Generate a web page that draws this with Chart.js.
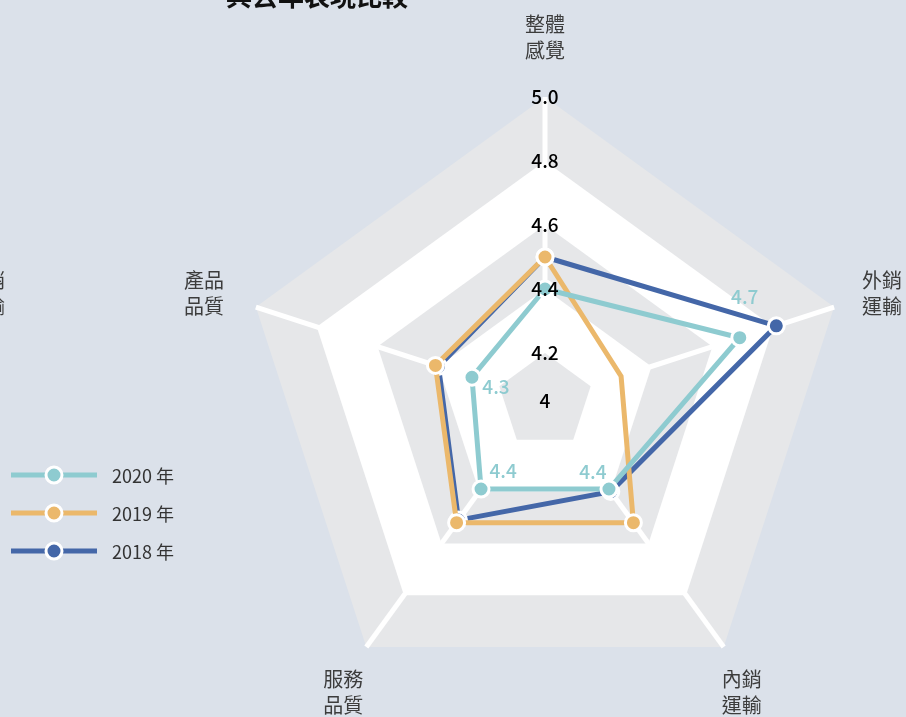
<!DOCTYPE html>
<html>
<head>
<meta charset="utf-8">
<script src="https://cdn.jsdelivr.net/npm/chart.js@4.4.1/dist/chart.umd.min.js"></script>
<style>
  html, body { margin: 0; padding: 0; background: #dbe1ea; overflow: hidden; }
  #grafico { display: block; }
</style>
</head>
<body>
<canvas id="grafico" width="906" height="717"></canvas>
<script>
const eixos = [['整體', '感覺'], ['外銷', '運輸'], ['內銷', '運輸'], ['服務', '品質'], ['產品', '品質']];
const anos = ['2020 年', '2019 年', '2018 年'];
const valores2020 = [4.40, 4.69, 4.39, 4.39, 4.29];
const valores2019 = [4.50, 4.30, 4.52, 4.52, 4.41];
const valores2018 = [4.50, 4.81, 4.40, 4.51, 4.40];
const escalaValores = [4.05, 4.2, 4.4, 4.6, 4.8, 5.0];
const escalaRotulos = ['4', '4.2', '4.4', '4.6', '4.8', '5.0'];
const titulo = '與去年表現比較';

const cores = ['#8ecbd0', '#ebb86b', '#4467a8'];
const fonte = "'Noto Sans CJK TC', 'Noto Sans', sans-serif";
const cinza = '#e6e7e9';

function poligono(ctx, escala, valor) {
    const d = escala.getDistanceFromCenterForValue(valor);
    const n = escala._pointLabels.length;
    ctx.beginPath();
    for (let i = 0; i < n; i++) {
        const p = escala.getPointPosition(i, d);
        if (i === 0) ctx.moveTo(p.x, p.y); else ctx.lineTo(p.x, p.y);
    }
    ctx.closePath();
}

const pluginFundo = {
    id: 'fundoRadar',
    beforeDraw(chart) {
        const ctx = chart.ctx;
        const escala = chart.scales.r;
        ctx.save();
        // faixas alternadas
        [[5.0, cinza], [4.8, '#ffffff'], [4.6, cinza], [4.4, '#ffffff']].forEach(([v, cor]) => {
            poligono(ctx, escala, v);
            ctx.fillStyle = cor;
            ctx.fill();
        });
        ctx.restore();
    },
    beforeDatasetsDraw(chart) {
        const ctx = chart.ctx;
        ctx.save();
        poligono(ctx, chart.scales.r, 4.2);
        ctx.fillStyle = cinza;
        ctx.fill();
        ctx.restore();
    },
    afterDatasetsDraw(chart) {
        // rótulos de valor da série 2020
        const ctx = chart.ctx;
        const desloc = [null, [5, -41], [-16, -17], [22, -18], [24, 10]];
        const meta = chart.getDatasetMeta(0);
        ctx.save();
        ctx.font = '500 19px ' + fonte;
        ctx.fillStyle = cores[0];
        ctx.textAlign = 'center';
        ctx.textBaseline = 'middle';
        meta.data.forEach((pt, i) => {
            if (!desloc[i]) return;
            ctx.fillText(valores2020[i].toFixed(1), pt.x + desloc[i][0], pt.y + desloc[i][1]);
        });
        ctx.restore();
    },
    afterDraw(chart) {
        const ctx = chart.ctx;
        const escala = chart.scales.r;
        const R = escala.drawingArea;
        ctx.save();

        // título (cortado no topo)
        ctx.font = 'bold 26px ' + fonte;
        ctx.fillStyle = '#111';
        ctx.textAlign = 'center';
        ctx.textBaseline = 'middle';
        ctx.fillText(titulo, 317, -4);

        // rótulo do gráfico vizinho, cortado à esquerda
        ctx.font = '20px ' + fonte;
        ctx.fillStyle = '#3c3c3c';
        ctx.textAlign = 'right';
        ctx.fillText('外銷', 5, 280);
        ctx.fillText('運輸', 5, 306);

        // rótulos dos eixos
        const linha = 26;
        chart.data.labels.forEach((rot, i) => {
            const v = escala.getPointPosition(i, R);
            const dx = v.x - escala.xCenter;
            const dy = v.y - escala.yCenter;
            let x = v.x, centro;
            if (Math.abs(dx) < 1) {
                ctx.textAlign = 'center';
                centro = v.y - 60;
            } else if (dy < 0) {
                ctx.textAlign = dx > 0 ? 'left' : 'right';
                x = v.x + (dx > 0 ? 28 : -32);
                centro = v.y - 14;
            } else {
                ctx.textAlign = dx > 0 ? 'left' : 'right';
                x = v.x + (dx > 0 ? -2 : -3);
                centro = v.y + 45;
            }
            rot.forEach((txt, k) => {
                ctx.fillText(txt, x, centro + (k - (rot.length - 1) / 2) * linha);
            });
        });

        // legenda
        ctx.font = '18px ' + fonte;
        ctx.textAlign = 'left';
        chart.data.datasets.forEach((ds, i) => {
            const y = 475 + i * 38;
            ctx.strokeStyle = ds.borderColor;
            ctx.lineWidth = 5;
            ctx.beginPath();
            ctx.moveTo(11, y);
            ctx.lineTo(97, y);
            ctx.stroke();
            ctx.beginPath();
            ctx.arc(54, y, 8, 0, Math.PI * 2);
            ctx.fillStyle = ds.borderColor;
            ctx.fill();
            ctx.strokeStyle = '#ffffff';
            ctx.lineWidth = 3;
            ctx.stroke();
            ctx.fillStyle = '#333';
            ctx.fillText(ds.label, 112, y + 1);
        });
        ctx.restore();
    }
};

function serie(rotulo, dados, cor, raios) {
    return {
        label: rotulo,
        data: dados,
        fill: false,
        borderColor: cor,
        backgroundColor: cor,
        borderWidth: 5,
        pointBackgroundColor: cor,
        pointBorderColor: '#ffffff',
        pointBorderWidth: 3,
        pointRadius: raios,
        pointHoverRadius: raios
    };
}

const ctx = document.getElementById('grafico').getContext('2d');
new Chart(ctx, {
    type: 'radar',
    data: {
        labels: eixos,
        datasets: [
            serie(anos[0], valores2020, cores[0], 8),
            serie(anos[1], valores2019, cores[1], [8, 0, 8, 8, 8]),
            serie(anos[2], valores2018, cores[2], 8)
        ]
    },
    options: {
        responsive: false,
        devicePixelRatio: 1,
        animation: false,
        plugins: {
            legend: { display: false },
            tooltip: { enabled: false }
        },
        scales: {
            r: {
                min: escalaValores[0],
                max: escalaValores[escalaValores.length - 1],
                afterBuildTicks: (escala) => {
                    escala.ticks = [{ value: escalaValores[0] }].concat(escalaValores.map(v => ({ value: v })));
                },
                afterFit: (escala) => {
                    escala.xCenter = 545;
                    escala.yCenter = 401;
                    escala.drawingArea = 304;
                },
                ticks: {
                    z: 1,
                    showLabelBackdrop: false,
                    color: '#000',
                    font: { family: fonte, size: 19, weight: '500' },
                    callback: (valor, i) => i === 0 ? '' : escalaRotulos[i - 1]
                },
                grid: { display: false },
                angleLines: { color: '#ffffff', lineWidth: 5 },
                pointLabels: { display: false }
            }
        }
    },
    plugins: [pluginFundo]
});
</script>
</body>
</html>
